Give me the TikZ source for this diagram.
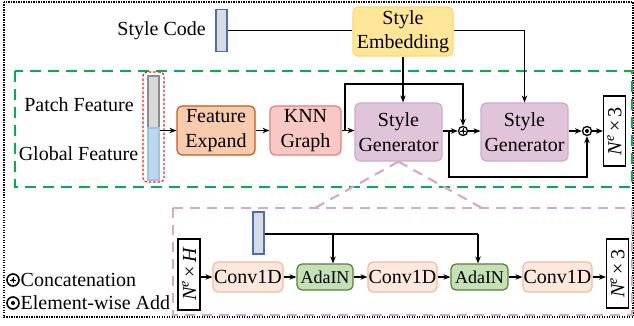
\documentclass[tikz,border=0pt]{standalone}
\usepackage{fontspec}
\setmainfont{Liberation Serif}
\usetikzlibrary{arrows.meta}

\definecolor{codefill}{HTML}{D6DCE5}
\definecolor{codeline}{HTML}{4F6EA8}
\definecolor{embfill}{HTML}{FFE699}
\definecolor{embline}{HTML}{FFD966}
\definecolor{fefill}{HTML}{F8CBAD}
\definecolor{feline}{HTML}{C55A11}
\definecolor{knnfill}{HTML}{F8C8C4}
\definecolor{knnline}{HTML}{EA7E76}
\definecolor{sgfill}{HTML}{E0C5DA}
\definecolor{sgline}{HTML}{D0AAC6}
\definecolor{cvfill}{HTML}{FCE8DC}
\definecolor{cvline}{HTML}{F4B9A0}
\definecolor{adfill}{HTML}{C5E0B4}
\definecolor{adline}{HTML}{548235}
\definecolor{patchfill}{HTML}{D9D9D9}
\definecolor{patchline}{HTML}{8C8C8C}
\definecolor{globfill}{HTML}{BDD7EE}
\definecolor{globline}{HTML}{9DC3E6}
\definecolor{grn}{HTML}{00B050}
\definecolor{mauve}{HTML}{D5AAC8}
\definecolor{redline}{HTML}{E02828}

\tikzset{
  txt/.style={font=\fontsize{20}{24.5}\selectfont, inner sep=0pt},
  box/.style={txt, draw, rounded corners=5pt, line width=1.2pt, align=center},
  codebar/.style={draw=codeline, fill=codefill, line width=1.4pt, minimum width=11pt, minimum height=42pt, inner sep=0pt},
  dimbox/.style={draw, line width=1.2pt, fill=white, rotate=90, inner sep=0pt,
    font=\fontsize{20}{22}\selectfont, minimum height=22pt},
  arr/.style={-{Stealth[length=7pt,width=5.5pt]}, line width=1.3pt},
  ln/.style={line width=1.3pt},
  catsym/.style={circle, draw, line width=1.3pt, minimum size=9pt, inner sep=0pt,
    path picture={\fill (path picture bounding box.center) circle (1.7pt);
      \draw[line width=0.9pt] ([xshift=-2.8pt]path picture bounding box.center) -- ([xshift=2.8pt]path picture bounding box.center)
        ([yshift=-2.8pt]path picture bounding box.center) -- ([yshift=2.8pt]path picture bounding box.center);}},
  addsym/.style={circle, draw, line width=1.3pt, minimum size=9pt, inner sep=0pt,
    path picture={\fill (path picture bounding box.center) circle (2pt);}},
}

\begin{document}
\begin{tikzpicture}[x=1pt,y=-1pt]
\useasboundingbox (0,0) rectangle (634,326);

% frames
\draw[line width=1.2pt, dash pattern=on 1.2pt off 1.3pt] (4,2) rectangle (633,317);
\draw[grn, line width=2.4pt, dash pattern=on 11pt off 7pt] (15,71) rectangle (632,187);
\draw[mauve, line width=2.2pt, dash pattern=on 10pt off 7pt] (173,208) rectangle (632,315);

% style code and embedding
\node[txt, anchor=east] (sclbl) at (206,31) {Style Code};
\node[codebar] (sc) at (221.5,30.5) {};
\node[box, draw=embline, fill=embfill, minimum width=100pt, minimum height=49pt] (emb) at (403,31.5) {Style\\Embedding};

% input features
\node[txt] (pf) at (79,105) {Patch Feature};
\node[txt] (gf) at (78.5,154) {Global Feature};
\node[draw=redline, line width=1.2pt, dash pattern=on 2.5pt off 1.8pt, rounded corners=4pt,
      minimum width=21pt, minimum height=110pt, inner sep=0pt] (grp) at (153.5,127) {};
\node[draw=patchline, fill=patchfill, line width=1.4pt, minimum width=11pt, minimum height=52pt, inner sep=0pt] (patch) at (153.5,102) {};
\node[draw=globline, fill=globfill, line width=1.4pt, minimum width=11pt, minimum height=52pt, inner sep=0pt] (glob) at (153.5,154) {};

% upper pipeline
\node[box, draw=feline, fill=fefill, minimum width=78pt, minimum height=49pt] (fe) at (216,130.5) {Feature\\Expand};
\node[box, draw=knnline, fill=knnfill, minimum width=71pt, minimum height=49pt] (knn) at (305.5,130.5) {KNN\\Graph};
\node[box, draw=sgline, fill=sgfill, minimum width=87pt, minimum height=58pt] (sg1) at (398.5,132) {Style\\Generator};
\node[box, draw=sgline, fill=sgfill, minimum width=87pt, minimum height=58pt] (sg2) at (524.5,132) {Style\\Generator};
\node[catsym] (c1) at (463,131) {};
\node[addsym] (c2) at (587,131) {};
\node[dimbox, minimum width=70pt] (out1) at (614.5,131) {\itshape N\textsuperscript{e}\,\upshape×\,3};

% upper connectors
\draw[ln] (sc.east) -- (sc.east -| emb.west);
\draw[arr] (emb.east |- sc.east) -| (sg2.north);
\draw[arr] (emb.south) -- (emb.south |- sg1.north);
\draw[arr] (153.5,130.5 -| patch.east) -- (fe.west);
\draw[arr] (fe.east) -- (knn.west);
\draw[arr] (knn.east) -- (knn.east -| sg1.west);
\coordinate (skipa) at (345,130.5);
\coordinate (skipb) at (345,84);
\draw[arr] (skipa) -- (skipb) -| (c1.north);
\draw[arr] (sg1.east |- c1.west) -- (c1.west);
\draw[arr] (c1.east) -- (c1.east -| sg2.west);
\coordinate (resa) at (449,131);
\coordinate (resb) at (449,177);
\draw[arr] (resa) -- (resb) -| (c2.south);
\draw[arr] (sg2.east |- c2.west) -- (c2.west);
\draw[arr] (c2.east) -- (out1);

% zoom-in guides
\coordinate (zl) at (315,208);
\coordinate (zr) at (482,208);
\draw[mauve, line width=2.2pt, dash pattern=on 10pt off 7pt] (sg1.south) -- (zl);
\draw[mauve, line width=2.2pt, dash pattern=on 10pt off 7pt] (sg1.south) -- (zr);

% lower pipeline
\node[codebar] (sc2) at (258.5,233) {};
\node[dimbox, minimum width=71pt] (in2) at (189,274.5) {\itshape N\textsuperscript{e}\,\upshape×\,\itshape H};
\node[box, draw=cvline, fill=cvfill, minimum width=70pt, minimum height=30pt] (cv1) at (248,277) {Conv1D};
\node[box, draw=adline, fill=adfill, minimum width=56pt, minimum height=26pt, font=\fontsize{18}{20}\selectfont] (ad1) at (325,277) {AdaIN};
\node[box, draw=cvline, fill=cvfill, minimum width=69pt, minimum height=30pt] (cv2) at (402.5,277) {Conv1D};
\node[box, draw=adline, fill=adfill, minimum width=57pt, minimum height=26pt, font=\fontsize{18}{20}\selectfont] (ad2) at (479.5,277) {AdaIN};
\node[box, draw=cvline, fill=cvfill, minimum width=69pt, minimum height=30pt] (cv3) at (557.5,277) {Conv1D};
\node[dimbox, minimum width=69pt] (out2) at (617.5,273.5) {\itshape N\textsuperscript{e}\,\upshape×\,3};

% lower connectors
\draw[arr] (cv1.west -| in2.south) -- (cv1.west);
\draw[arr] (cv1.east) -- (ad1.west);
\draw[arr] (ad1.east) -- (cv2.west);
\draw[arr] (cv2.east) -- (ad2.west);
\draw[arr] (ad2.east) -- (cv3.west);
\draw[arr] (cv3.east) -- (cv3.east -| out2.north);
\coordinate (ba) at (333,234);
\coordinate (bb) at (478,234);
\draw[ln] (sc2.east |- ba) -- (bb);
\draw[arr] (ba) -- (ba |- ad1.north);
\draw[arr] (bb) -- (bb |- ad2.north);

% legend
\node[catsym, minimum size=12pt, line width=1.6pt] (lcs) at (13,280) {};
\node[txt, anchor=west] (lc) at (20.5,280) {Concatenation};
\node[addsym, minimum size=12pt, line width=1.6pt] (las) at (13,303) {};
\node[txt, anchor=west] (la) at (20.5,303) {Element-wise Add};
\end{tikzpicture}
\end{document}
